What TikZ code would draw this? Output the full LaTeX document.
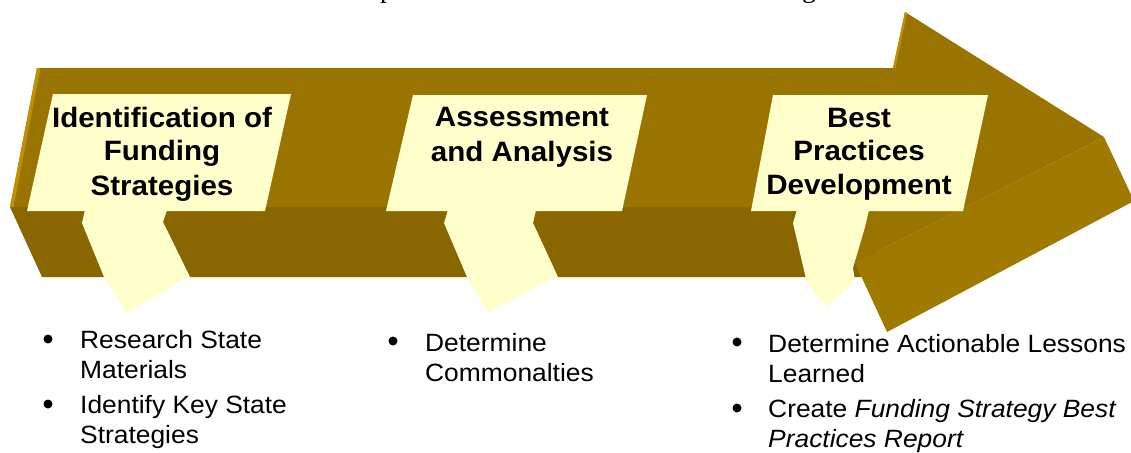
\documentclass[tikz,border=0pt]{standalone}
\usepackage{fontspec}
\setmainfont{Liberation Sans}[FakeStretch=1.055]
\newfontfamily\captionserif{Liberation Serif}

\definecolor{topface}{RGB}{154,116,0}
\definecolor{frontface}{RGB}{138,102,0}
\definecolor{headfront}{RGB}{160,122,0}
\definecolor{edgelight}{RGB}{192,144,0}
\definecolor{calloutfill}{RGB}{255,255,204}

\tikzset{
  phasetitle/.style={font=\fontsize{28}{34}\selectfont\bfseries, anchor=base, inner sep=0pt},
  itemline/.style={font=\fontsize{25}{30}\selectfont, anchor=base west, inner sep=0pt},
  bulletdot/.style={circle, fill=black, inner sep=0pt, minimum size=9pt},
  capfrag/.style={font=\captionserif\fontsize{28}{34}\selectfont, anchor=base west, inner sep=0pt},
  callout/.style={fill=calloutfill}
}

\begin{document}
\begin{tikzpicture}[x=1pt,y=-1pt]
\useasboundingbox (0,0) rectangle (1131,452);

\begin{scope}
  \clip (0,0) rectangle (1131,452);
  % caption line above, only its descenders fall inside
  \node[capfrag] (capp) at (380,-2.6) {p};
  \node[capfrag] (capg) at (802,-2.6) {g};

  % front face of the shaft
  \fill[frontface] (10,207) -- (880,207) -- (880,277) -- (42,277) -- cycle;
  % top face: shaft and head
  \fill[topface] (37,68) -- (893,68) -- (905,12) -- (1104,137) -- (855,263)
                 -- (866,207) -- (10,207) -- cycle;
  % front face of the head
  \fill[headfront] (855,263) -- (1104,137) -- (1134,201) -- (887,332) -- cycle;
  % light side edges
  \fill[edgelight] (37,68) -- (40.5,68) -- (13.5,207) -- (10,207) -- cycle;
  \fill[edgelight] (893,68) -- (905,12) -- (907,13) -- (895.5,68) -- cycle;
\end{scope}

% callout 1
\fill[callout] (53,94) -- (291,94) -- (265,211) -- (27,211) -- cycle;
\fill[callout] (85,210) -- (82,223) -- (104,277) -- (127,313) -- (181,281)
               -- (190,277) -- (163,222) -- (167,210) -- cycle;
% callout 2
\fill[callout] (413,95) -- (647,95) -- (622,211) -- (386,211) -- cycle;
\fill[callout] (448,210) -- (444,223) -- (467,277) -- (488,313) -- (547,281)
               -- (558,277) -- (533,223) -- (536,210) -- cycle;
% callout 3
\fill[callout] (773,95) -- (988,95) -- (963,211) -- (751,211) -- cycle;
\fill[callout] (797,210) -- (793,223) -- (807,283) -- (827,307) -- (855,281)
               -- (853,268) -- (865,227) -- (869,210) -- cycle;

% phase titles
\node[phasetitle] (t1a) at (162,127) {Identification of};
\node[phasetitle] (t1b) at (162,160.5) {Funding};
\node[phasetitle] (t1c) at (162,195) {Strategies};

\node[phasetitle] (t2a) at (522,126) {Assessment};
\node[phasetitle] (t2b) at (522,161.5) {and Analysis};

\node[phasetitle] (t3a) at (859,127) {Best};
\node[phasetitle] (t3b) at (859,160.5) {Practices};
\node[phasetitle] (t3c) at (859,194.5) {Development};

% tasks of phase 1
\node[bulletdot] (b1a) at (48,339) {};
\node[itemline] (i1a) at (80,348) {Research State};
\node[itemline] (i1b) at (80,378) {Materials};
\node[bulletdot] (b1b) at (48,404) {};
\node[itemline] (i1c) at (80,413) {Identify Key State};
\node[itemline] (i1d) at (80,443) {Strategies};

% tasks of phase 2
\node[bulletdot] (b2a) at (393,341) {};
\node[itemline] (i2a) at (425,351) {Determine};
\node[itemline] (i2b) at (425,381) {Commonalties};

% tasks of phase 3
\node[bulletdot] (b3a) at (737,342) {};
\node[itemline] (i3a) at (768,352) {Determine Actionable Lessons};
\node[itemline] (i3b) at (768,382) {Learned};
\node[bulletdot] (b3b) at (737,408) {};
\node[itemline] (i3c) at (768,417) {Create \textit{Funding Strategy Best}};
\node[itemline] (i3d) at (768,447) {\textit{Practices Report}};
\end{tikzpicture}
\end{document}
